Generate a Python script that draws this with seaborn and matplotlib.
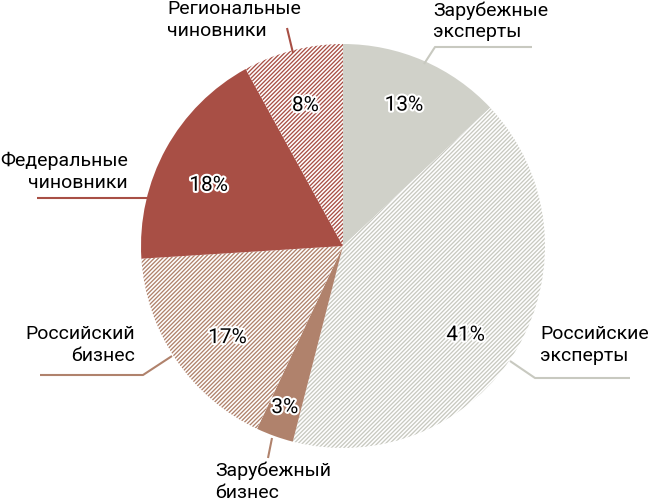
import matplotlib
matplotlib.use("Agg")
import matplotlib.pyplot as plt
import matplotlib.patheffects as pe
import seaborn as sns
import numpy as np

categories = ["Зарубежные\nэксперты", "Российские\nэксперты", "Зарубежный\nбизнес",
              "Российский\nбизнес", "Федеральные\nчиновники", "Региональные\nчиновники"]
values = [13, 41, 3, 17, 18, 8]
pct_labels = ["13%", "41%", "3%", "17%", "18%", "8%"]

GRAY = "#d0d1c9"
GRAY_H = "#c8c9c0"
RED = "#a84f45"
BROWN = "#b0826c"
fills = [GRAY, "white", BROWN, "white", RED, "white"]
hatch_cols = [GRAY, GRAY_H, BROWN, BROWN, RED, RED]
hatches = [None, "////////", None, "////////", None, "////////"]
line_cols = [GRAY_H, GRAY_H, BROWN, BROWN, RED, RED]

sns.set_theme(style="white")
plt.rcParams["font.family"] = ["Roboto", "DejaVu Sans"]
plt.rcParams["hatch.linewidth"] = 0.95

W, H = 649, 501
fig = plt.figure(figsize=(W / 100, H / 100), dpi=100)
ax = fig.add_axes([0, 0, 1, 1])

def Y(y):
    return H - y

cx, cy, R = 343, 246, 202
wedges, _ = ax.pie(values, colors=fills, startangle=90, counterclock=False,
                   center=(cx, Y(cy)), radius=R,
                   wedgeprops=dict(linewidth=0))
for w, hc, h in zip(wedges, hatch_cols, hatches):
    w.set_edgecolor(hc)
    w.set_linewidth(0)
    if h:
        w.set_hatch(h)

# percentage labels near the mid-angle of each wedge
pct_dist = [0.76, 0.75, 0.85, 0.73, 0.73, 0.72]
pct_dang = [0, -5.4, 0, 4.2, 4.5, 0.6]
for w, lab, d, da in zip(wedges, pct_labels, pct_dist, pct_dang):
    ang = np.deg2rad((w.theta1 + w.theta2) / 2 + da)
    ax.text(cx + d * R * np.cos(ang), Y(cy) + d * R * np.sin(ang), lab,
            ha="center", va="center", fontsize=15, color="black",
            path_effects=[pe.withStroke(linewidth=3, foreground="white")])

# category labels with leader lines (pixel layout)
label_pos = [(433, 1, "left"), (540, 325, "left"), (215, 462, "left"),
             (135, 325, "right"), (128, 152, "right"), (167, 0, "left")]
leaders = [
    [(424, 64), (435, 47), (532, 47)],
    [(510, 361), (535, 378), (630, 378)],
    [(272, 438), (268, 458)],
    [(40, 375), (143, 375), (172, 356)],
    [(37, 198), (147, 198)],
    [(287, 28), (293, 53)],
]
for cat, (x, y, ha), pts, lc in zip(categories, label_pos, leaders, line_cols):
    ax.text(x, Y(y), cat, ha=ha, va="top", fontsize=14, color="black",
            linespacing=1.28, multialignment=ha)
    xs = [p[0] for p in pts]
    ys = [Y(p[1]) for p in pts]
    ax.plot(xs, ys, color=lc, linewidth=1.5, solid_capstyle="butt")

ax.set_xlim(0, W)
ax.set_ylim(0, H)
ax.set_aspect("equal")
ax.axis("off")
fig.savefig("out.png", dpi=100, facecolor="white")
